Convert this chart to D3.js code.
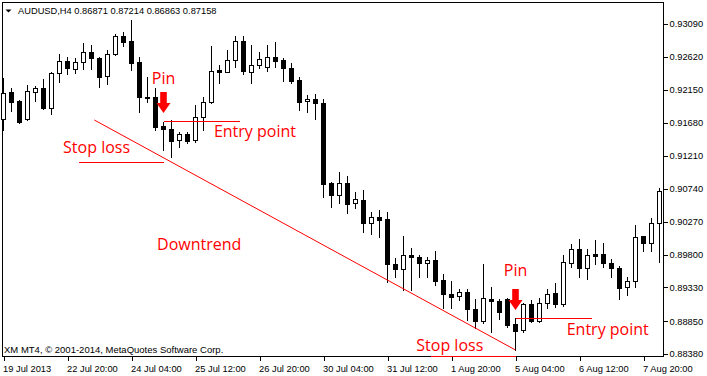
<!DOCTYPE html>
<html><head><meta charset="utf-8">
<script src="https://cdn.jsdelivr.net/npm/d3@7"></script>
<style>
html,body{margin:0;padding:0;background:#fff;}
svg{display:block;}
.axis text{font-family:"Liberation Sans",Arial,sans-serif;font-size:9.3px;fill:#000;}
.axis line{stroke:#000;shape-rendering:crispEdges;}
.axis path{display:none;}
</style></head>
<body>
<svg id="chart" width="707" height="376"></svg>
<script>
// ---- data (AUDUSD H4, one entry per bar) ----
const opens  = [0.91730,0.92115,0.91991,0.91738,0.92124,0.92172,0.91887,0.92386,0.92566,0.92443,
                0.92552,0.92686,0.92600,0.92348,0.92658,0.92919,0.92843,0.92552,0.92044,0.92044,
                0.91634,0.91591,0.91434,0.91516,0.91434,0.91758,0.91972,0.92438,0.92409,0.92572,
                0.92847,0.92409,0.92505,0.92481,0.92623,0.92576,0.92458,0.92291,0.91987,0.92020,
                0.91967,0.90816,0.90654,0.90816,0.90531,0.90578,0.90254,0.90335,0.90303,0.89660,
                0.89589,0.89793,0.89765,0.89675,0.89722,0.89436,0.89236,0.89204,0.89261,0.89022,
                0.88855,0.89165,0.89141,0.89165,0.88808,0.88723,0.89089,0.88855,0.89104,0.89246,
                0.89089,0.89675,0.89874,0.89603,0.89804,0.89804,0.89675,0.89603,0.89332,0.89422,
                0.90064,0.89960,0.90246];
const highs  = [0.92315,0.92172,0.92005,0.92219,0.92205,0.92301,0.92409,0.92662,0.92615,0.92600,
                0.92815,0.92790,0.92615,0.92719,0.92947,0.92972,0.93147,0.92623,0.92329,0.92172,
                0.91696,0.91720,0.91553,0.91553,0.91934,0.92044,0.92776,0.92505,0.92719,0.92919,
                0.92919,0.92790,0.92695,0.92790,0.92829,0.92600,0.92538,0.92338,0.92077,0.92091,
                0.92015,0.90831,0.90973,0.90921,0.90688,0.90721,0.90403,0.90435,0.90403,0.89746,
                0.90064,0.89889,0.89793,0.89765,0.89857,0.89515,0.89426,0.89303,0.89303,0.89165,
                0.89660,0.89332,0.89165,0.89175,0.88890,0.89112,0.89151,0.89184,0.89308,0.89389,
                0.89786,0.89954,0.90019,0.89872,0.90007,0.89964,0.89729,0.89643,0.89479,0.90221,
                0.90070,0.90321,0.90745];
const lows   = [0.91577,0.91853,0.91673,0.91720,0.91995,0.91873,0.91805,0.92266,0.92376,0.92386,
                0.92443,0.92443,0.92195,0.92229,0.92648,0.92776,0.92433,0.91838,0.91981,0.91577,
                0.91292,0.91196,0.91339,0.91387,0.91410,0.91577,0.91958,0.92252,0.92405,0.92481,
                0.92376,0.92244,0.92458,0.92419,0.92481,0.92281,0.92244,0.91863,0.91838,0.91730,
                0.90617,0.90482,0.90540,0.90397,0.90468,0.90126,0.90089,0.90046,0.89412,0.89483,
                0.89294,0.89294,0.89475,0.89483,0.89365,0.89032,0.89032,0.89151,0.88865,0.88747,
                0.88818,0.88698,0.88875,0.88770,0.88437,0.88698,0.88833,0.88833,0.89037,0.89055,
                0.89065,0.89626,0.89483,0.89448,0.89665,0.89626,0.89476,0.89161,0.89215,0.89341,
                0.89854,0.89850,0.89686];
const closes = [0.92101,0.91981,0.91696,0.92134,0.92172,0.91895,0.92395,0.92566,0.92458,0.92552,
                0.92686,0.92600,0.92338,0.92658,0.92919,0.92837,0.92538,0.92044,0.92034,0.91624,
                0.91587,0.91424,0.91516,0.91424,0.91758,0.91977,0.92419,0.92409,0.92572,0.92847,
                0.92419,0.92505,0.92586,0.92623,0.92566,0.92458,0.92281,0.91981,0.92020,0.91958,
                0.90806,0.90654,0.90816,0.90525,0.90588,0.90254,0.90335,0.90297,0.89660,0.89589,
                0.89793,0.89769,0.89683,0.89722,0.89426,0.89232,0.89198,0.89261,0.89018,0.88855,
                0.89175,0.89132,0.88984,0.88794,0.88713,0.89089,0.88855,0.89104,0.89236,0.89089,
                0.89689,0.89874,0.89603,0.89790,0.89782,0.89675,0.89603,0.89329,0.89422,0.90054,
                0.89960,0.90246,0.90704];
const priceTicks = [0.88380,0.88850,0.89330,0.89800,0.90270,0.90740,0.91210,0.91680,0.92150,0.92620,0.93090];
const timeTickBars = [0,8,16,24,32,40,48,56,64,72,80];
const timeTickLabels = ["19 Jul 2013","22 Jul 20:00","24 Jul 04:00","25 Jul 12:00","26 Jul 20:00",
                        "30 Jul 04:00","31 Jul 12:00","1 Aug 20:00","5 Aug 04:00","6 Aug 12:00","7 Aug 20:00"];
const headerText = "AUDUSD,H4  0.86871 0.87214 0.86863 0.87158";
const footerText = "XM MT4, \u00A9 2001-2014, MetaQuotes Software Corp.";
// annotations (bar index / price)
const pinBars = [20, 64];
const arrowTipPrices = [0.91820, 0.89008];
const pinLabelPrices = [0.92234, 0.89493];
const entryLines = [{from:20, to:29.6, price:0.91710},{from:64, to:73.5, price:0.88893}];
const entryLabels = [{bar:26.3, price:0.91473},{bar:70.4, price:0.88651}];
const stopLines = [{from:9.45, to:20, price:0.91120},{from:53.4, to:64.1, price:0.88356}];
const stopLabels = [{bar:7.45, price:0.91245},{bar:51.6, price:0.88427}];
const trendLine = {from:11.35, fromPrice:0.91720, to:64, toPrice:0.88437};
const trendLabel = {bar:19.2, price:0.89864, text:"Downtrend"};

// ---- drawing ----
const frameL = 3, frameR = 663, frameT = 3, frameB = 356;
const svg = d3.select("#chart");
const n = opens.length;
const x = d3.scaleLinear().domain([0, n - 1]).range([3.5, 659.5]);
const y = d3.scaleLinear().domain([priceTicks[0], priceTicks[priceTicks.length-1]]).range([354, 24]);

// frame
svg.append("rect").attr("x", frameL - 0.5).attr("y", frameT - 0.5)
   .attr("width", frameR - frameL + 1).attr("height", frameB - frameT + 1)
   .attr("fill", "none").attr("stroke", "#000").attr("shape-rendering", "crispEdges");

// axes
const yAxis = d3.axisRight(y).tickValues(priceTicks).tickSize(4).tickPadding(2)
   .tickFormat(d3.format(".5f"));
svg.append("g").attr("class", "axis").attr("transform", `translate(${frameR + 0.5},0)`).call(yAxis);

const xAxis = d3.axisBottom(x).tickValues(timeTickBars).tickSize(4)
   .tickFormat((d, i) => timeTickLabels[i]);
const gx = svg.append("g").attr("class", "axis").attr("transform", `translate(0,${frameB + 0.5})`).call(xAxis);
gx.selectAll("text").attr("text-anchor", "start").attr("dx", "-0.1em").attr("dy", "0.95em");

// candles
const bars = d3.range(n).map(i => ({i, o: opens[i], h: highs[i], l: lows[i], c: closes[i]}));
const cg = svg.append("g").attr("shape-rendering", "crispEdges");
cg.selectAll("line.wick").data(bars).join("line").attr("class", "wick")
  .attr("x1", d => Math.floor(x(d.i)) + 0.5).attr("x2", d => Math.floor(x(d.i)) + 0.5)
  .attr("y1", d => Math.round(y(d.h))).attr("y2", d => Math.round(y(d.l)) + 1)
  .attr("stroke", "#000");
cg.selectAll("rect.body").data(bars).join("rect").attr("class", "body")
  .attr("x", d => Math.floor(x(d.i)) - 2 + 0.5)
  .attr("y", d => Math.round(y(Math.max(d.o, d.c))) + 0.5)
  .attr("width", 4)
  .attr("height", d => Math.max(1, Math.round(y(Math.min(d.o, d.c))) - Math.round(y(Math.max(d.o, d.c)))))
  .attr("fill", d => d.c >= d.o ? "#fff" : "#000")
  .attr("stroke", "#000");

// header
svg.append("path").attr("d", "M5.5,9.5 L11.5,9.5 L8.5,12.5 Z").attr("fill", "#000");
svg.append("text").attr("x", 18).attr("y", 13.5).text(headerText)
   .style("font-family", '"Liberation Sans",Arial,sans-serif').style("font-size", "9.3px");
svg.append("text").attr("x", 4).attr("y", 353).text(footerText)
   .style("font-family", '"Liberation Sans",Arial,sans-serif').style("font-size", "9.5px");

// annotations
const red = "#ff0000";
const ag = svg.append("g");
const redFont = (sel) => sel.style("font-family", '"Open Sans",sans-serif').style("font-size", "16px").attr("fill", red);

// trend line
ag.append("line").attr("x1", x(trendLine.from)).attr("y1", y(trendLine.fromPrice))
  .attr("x2", x(trendLine.to)).attr("y2", y(trendLine.toPrice)).attr("stroke", red).attr("stroke-width", 1);
ag.append("text").attr("x", x(trendLabel.bar)).attr("y", y(trendLabel.price)).text(trendLabel.text).call(redFont);

// entry & stop lines
[...entryLines, ...stopLines].forEach(l => {
  ag.append("line").attr("x1", x(l.from)).attr("x2", x(l.to))
    .attr("y1", Math.round(y(l.price)) + 0.5).attr("y2", Math.round(y(l.price)) + 0.5)
    .attr("stroke", red).attr("shape-rendering", "crispEdges");
});
entryLabels.forEach(t => ag.append("text").attr("x", x(t.bar)).attr("y", y(t.price)).text("Entry point").call(redFont));
stopLabels.forEach(t => ag.append("text").attr("x", x(t.bar)).attr("y", y(t.price)).text("Stop loss").call(redFont));

// pins: arrows + labels
pinBars.forEach((b, k) => {
  const cx = x(b), tip = y(arrowTipPrices[k]);
  ag.append("path")
    .attr("d", `M${cx - 3.3},${tip - 21} L${cx + 3.3},${tip - 21} L${cx + 3.3},${tip - 10} L${cx + 7},${tip - 10} L${cx},${tip} L${cx - 7},${tip - 10} L${cx - 3.3},${tip - 10} Z`)
    .attr("fill", red);
  ag.append("text").attr("x", cx).attr("y", y(pinLabelPrices[k])).attr("text-anchor", "middle").text("Pin").call(redFont);
});
</script>
</body></html>
